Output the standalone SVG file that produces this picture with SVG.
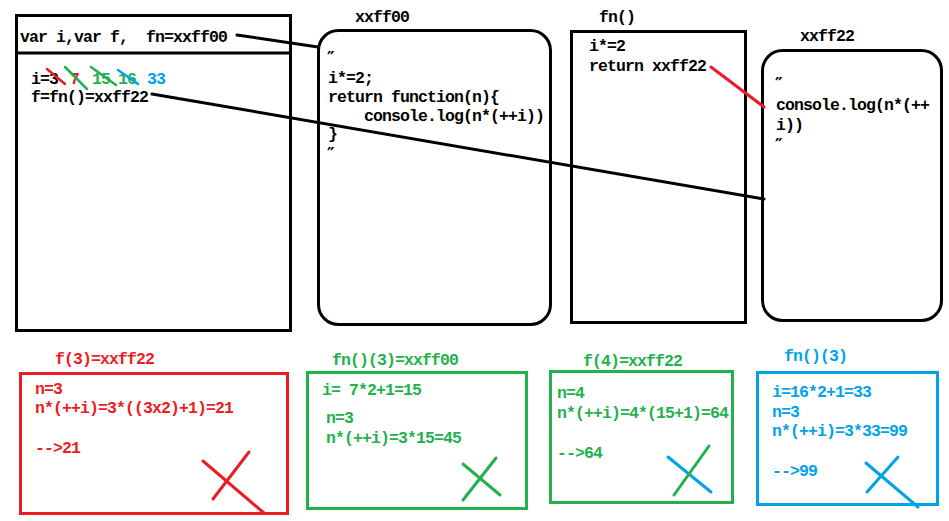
<svg xmlns="http://www.w3.org/2000/svg" width="949" height="521" viewBox="0 0 949 521">
  <style>
    text { font-family: "Liberation Mono", "DejaVu Sans Mono", monospace; font-size: 16.5px; letter-spacing: -0.9px; font-weight: bold; white-space: pre; }
    .k { fill: #000; }
    .r { fill: #ed1c24; }
    .g { fill: #22b14c; }
    .b { fill: #00a2e8; }
    .q { font-family: "DejaVu Sans", sans-serif; font-weight: bold; font-size: 17px; letter-spacing: 0; }
    .box { fill: none; stroke: #000; stroke-width: 3; }
    .rbox { fill: none; stroke: #ed1c24; stroke-width: 3; }
    .gbox { fill: none; stroke: #22b14c; stroke-width: 3; }
    .bbox { fill: none; stroke: #00a2e8; stroke-width: 3; }
    .ln { fill: none; stroke-width: 3; stroke-linecap: round; }
    .st { fill: none; stroke-width: 2.5; stroke-linecap: round; }
  </style>
  <rect width="949" height="521" fill="#fff"/>

  <!-- global scope -->
  <g id="global-scope">
    <rect class="box" x="16.5" y="15.5" width="274" height="315"/>
    <line class="box" x1="16" y1="53" x2="291" y2="53"/>
    <text class="k" x="20" y="42" xml:space="preserve">var i,var f,  fn=xxff00</text>
    <text class="k" x="31" y="84">i=3</text>
    <text class="r" x="70" y="84">7</text>
    <text class="g" x="92" y="84">15</text>
    <text class="g" x="118" y="84">16</text>
    <text class="b" x="147" y="84">33</text>
    <text class="k" x="31" y="102">f=fn()=xxff22</text>
    <line class="st" stroke="#ed1c24" x1="47" y1="69" x2="65" y2="84"/>
    <line class="st" stroke="#22b14c" x1="65" y1="67" x2="87" y2="89"/>
    <line class="st" stroke="#22b14c" x1="91" y1="67" x2="116" y2="85"/>
    <line class="st" stroke="#00a2e8" x1="118" y1="70" x2="138" y2="84"/>
  </g>

  <!-- heap object xxff00 -->
  <g id="xxff00">
    <text class="k" x="355" y="22">xxff00</text>
    <rect class="box" x="318.5" y="30.5" width="232" height="294" rx="20" ry="20"/>
    <text class="k q" x="327" y="64">″</text>
    <text class="k" x="328" y="83">i*=2;</text>
    <text class="k" x="328" y="102">return function(n){</text>
    <text class="k" x="364" y="121">console.log(n*(++i))</text>
    <text class="k" x="328" y="139">}</text>
    <text class="k q" x="327" y="160">″</text>
  </g>

  <!-- fn() execution -->
  <g id="fn-call">
    <text class="k" x="599" y="22">fn()</text>
    <rect class="box" x="571.5" y="31.5" width="174" height="291"/>
    <text class="k" x="589" y="51">i*=2</text>
    <text class="k" x="589" y="71">return xxff22</text>
  </g>

  <!-- heap object xxff22 -->
  <g id="xxff22">
    <text class="k" x="800" y="41">xxff22</text>
    <rect class="box" x="762.5" y="50.5" width="179" height="270" rx="20" ry="20"/>
    <text class="k q" x="775" y="90">″</text>
    <text class="k" x="776" y="110">console.log(n*(++</text>
    <text class="k" x="776" y="130">i))</text>
    <text class="k q" x="775" y="151">″</text>
  </g>

  <!-- references -->
  <g id="connectors">
    <line class="ln" stroke="#000" x1="237" y1="35" x2="318" y2="47"/>
    <line class="ln" stroke="#000" x1="152" y1="94" x2="764" y2="199"/>
    <line class="ln" stroke="#ed1c24" x1="711" y1="67" x2="764" y2="107"/>
  </g>

  <!-- f(3) -->
  <g id="call-f3">
    <text class="r" x="55" y="364">f(3)=xxff22</text>
    <rect class="rbox" x="20.5" y="373.5" width="267" height="140"/>
    <text class="r" x="35" y="394">n=3</text>
    <text class="r" x="35" y="413">n*(++i)=3*((3x2)+1)=21</text>
    <text class="r" x="35" y="453">--&gt;21</text>
    <line class="ln" stroke="#ed1c24" x1="203" y1="461" x2="264" y2="513"/>
    <line class="ln" stroke="#ed1c24" x1="249" y1="452" x2="213" y2="499"/>
  </g>

  <!-- fn()(3) first -->
  <g id="call-fn3-a">
    <text class="g" x="332" y="365">fn()(3)=xxff00</text>
    <rect class="gbox" x="307.5" y="372.5" width="219" height="136"/>
    <text class="g" x="322" y="395" xml:space="preserve">i= 7*2+1=15</text>
    <text class="g" x="326" y="423">n=3</text>
    <text class="g" x="326" y="443">n*(++i)=3*15=45</text>
    <line class="ln" stroke="#22b14c" x1="463" y1="464" x2="500" y2="495"/>
    <line class="ln" stroke="#22b14c" x1="496" y1="458" x2="463" y2="500"/>
  </g>

  <!-- f(4) -->
  <g id="call-f4">
    <text class="g" x="583" y="366">f(4)=xxff22</text>
    <rect class="gbox" x="550.5" y="371.5" width="182" height="131"/>
    <text class="g" x="557" y="398">n=4</text>
    <text class="g" x="557" y="418">n*(++i)=4*(15+1)=64</text>
    <text class="g" x="557" y="458">--&gt;64</text>
    <line class="ln" stroke="#00a2e8" x1="668" y1="457" x2="711" y2="492"/>
    <line class="ln" stroke="#22b14c" x1="709" y1="446" x2="674" y2="495"/>
  </g>

  <!-- fn()(3) second -->
  <g id="call-fn3-b">
    <text class="b" x="784" y="361">fn()(3)</text>
    <rect class="bbox" x="757.5" y="372.5" width="180" height="132"/>
    <text class="b" x="772" y="397">i=16*2+1=33</text>
    <text class="b" x="772" y="417">n=3</text>
    <text class="b" x="772" y="436">n*(++i)=3*33=99</text>
    <text class="b" x="772" y="476">--&gt;99</text>
    <line class="ln" stroke="#00a2e8" x1="866" y1="463" x2="918" y2="507"/>
    <line class="ln" stroke="#00a2e8" x1="898" y1="457" x2="867" y2="492"/>
  </g>
</svg>
